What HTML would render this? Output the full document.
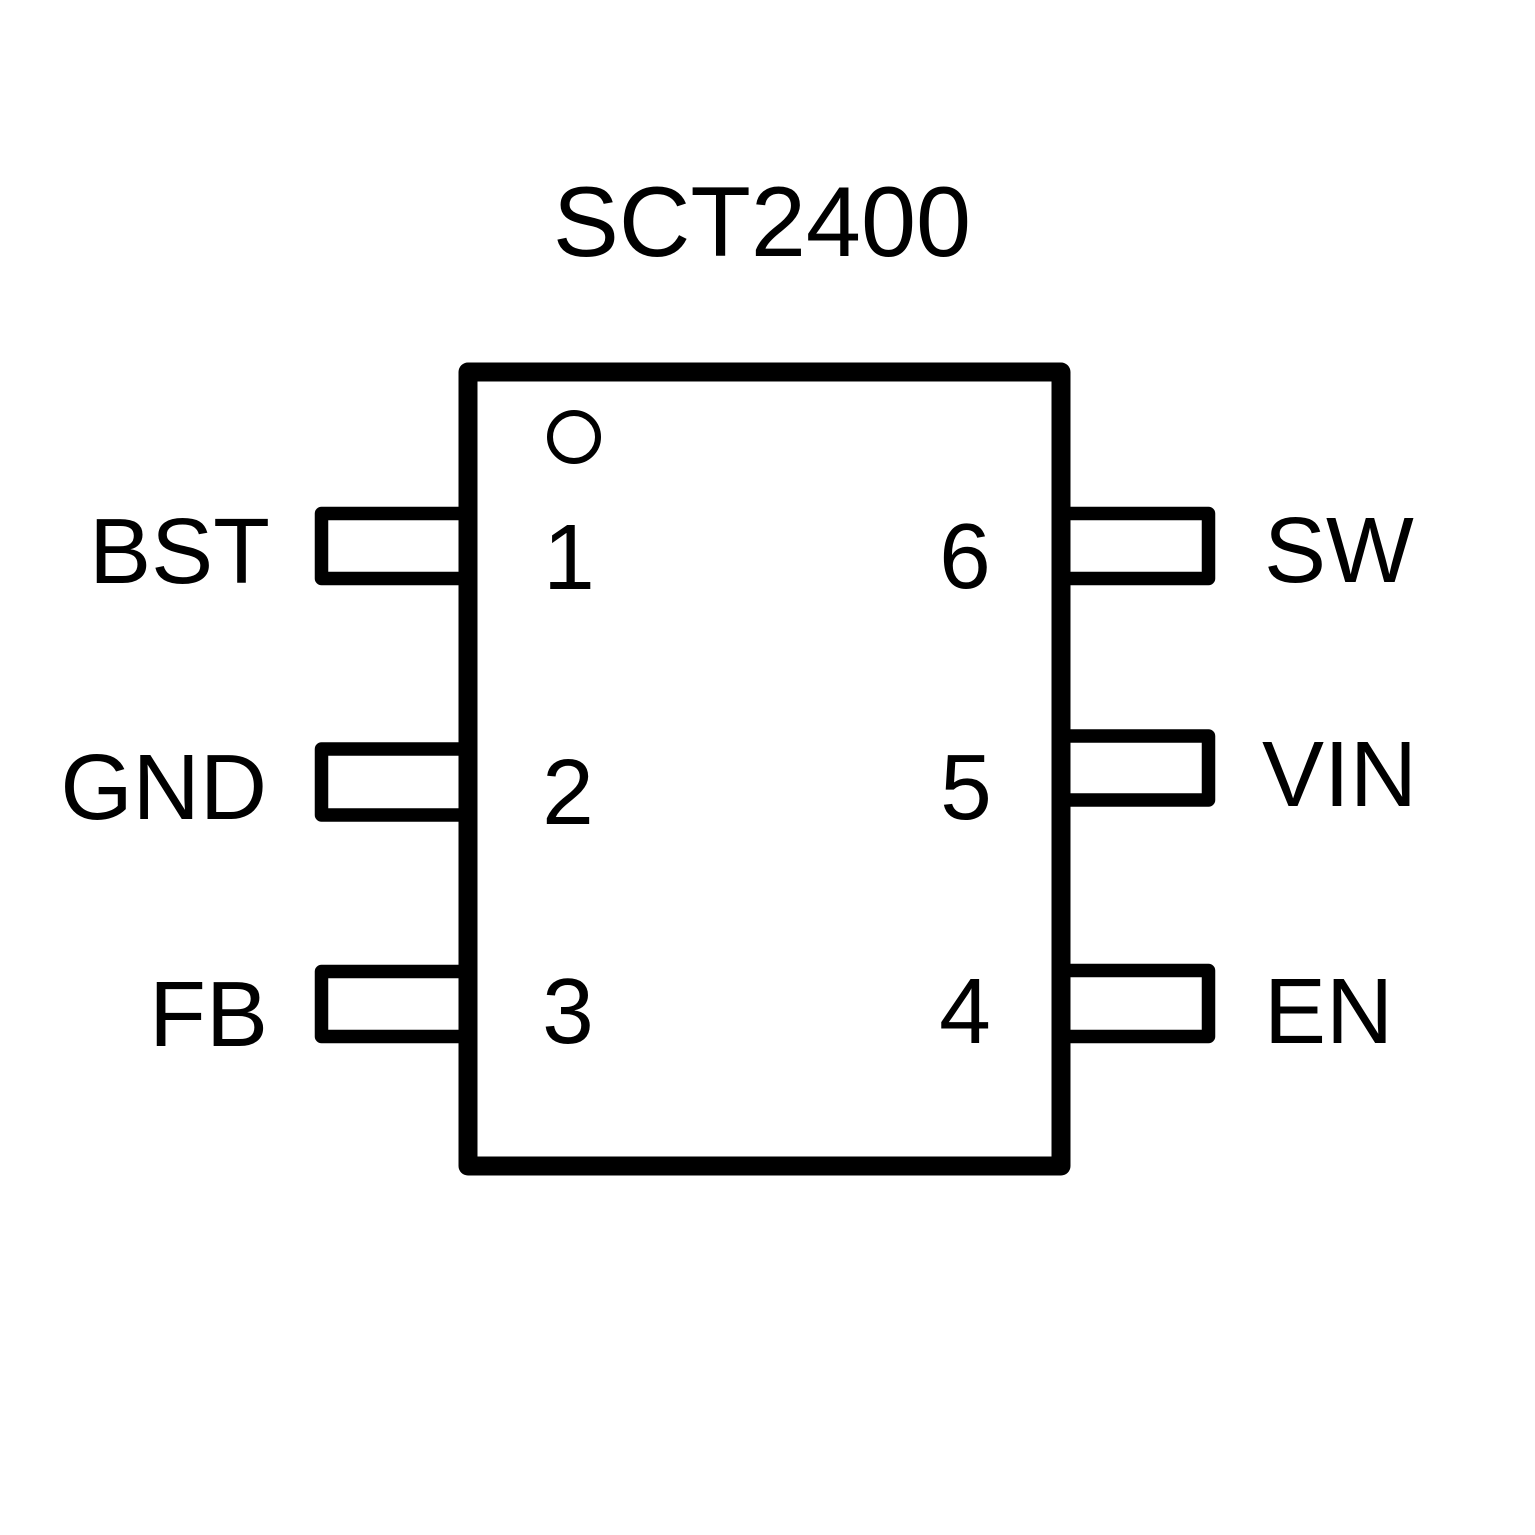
<!DOCTYPE html>
<html><head><meta charset="utf-8"><style>html,body{margin:0;padding:0;background:#fff}svg{display:block}</style></head><body>
<svg width="1535" height="1535" viewBox="0 0 1535 1535" xmlns="http://www.w3.org/2000/svg">
<rect width="1535" height="1535" fill="#fff"/>
<g fill="none" stroke="#000" stroke-width="13.5" stroke-linejoin="round">
<path d="M468 513.5 H321.5 V578.5 H468"/>
<path d="M468 749 H321.5 V815 H468"/>
<path d="M468 971.5 H321.5 V1036.5 H468"/>
<path d="M1061 513.5 H1208.5 V578.5 H1061"/>
<path d="M1061 736 H1208.5 V800 H1061"/>
<path d="M1061 970.5 H1208.5 V1036.5 H1061"/>
</g>
<rect x="468" y="372" width="593" height="794" fill="none" stroke="#000" stroke-width="19" stroke-linejoin="round"/>
<circle cx="574" cy="437" r="24" fill="none" stroke="#000" stroke-width="6"/>
<g font-family="Liberation Sans, Arial, sans-serif" fill="#000">
<text x="762" y="256" font-size="99" text-anchor="middle">SCT2400</text>
<g font-size="93">
<text x="270" y="583" text-anchor="end">BST</text>
<text x="267" y="819" text-anchor="end">GND</text>
<text x="268" y="1046" text-anchor="end">FB</text>
<text x="1264" y="582">SW</text>
<text x="1262" y="806">VIN</text>
<text x="1264" y="1043">EN</text>
<text x="569" y="589" text-anchor="middle">1</text>
<text x="568" y="824" text-anchor="middle">2</text>
<text x="568" y="1043" text-anchor="middle">3</text>
<text x="965" y="588" text-anchor="middle">6</text>
<text x="966" y="819" text-anchor="middle">5</text>
<text x="965" y="1043" text-anchor="middle">4</text>
</g>
</g>
</svg>
</body></html>
